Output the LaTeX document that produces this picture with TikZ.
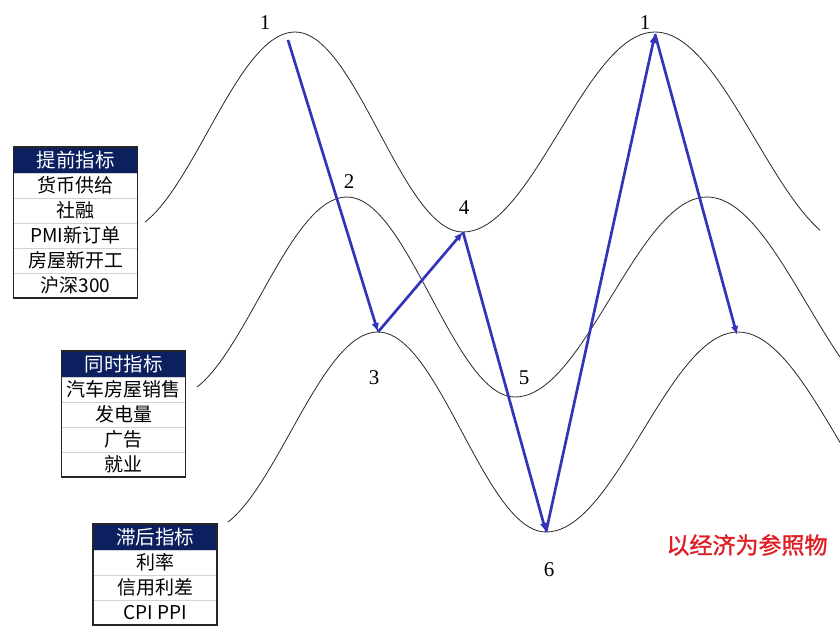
\documentclass[tikz,border=0pt]{standalone}
\usepackage{fontspec}
\setmainfont{Liberation Serif}
\newfontfamily\cjkfont{Noto Sans CJK SC}
\newfontfamily\notefont{Noto Sans CJK SC}[FakeBold=1.2]
\usetikzlibrary{positioning,arrows.meta}

\definecolor{navy}{RGB}{12,32,96}
\definecolor{arrowblue}{RGB}{52,52,186}
\definecolor{notered}{RGB}{222,30,36}

% one wave, peak at (#1,#2), cut at #3 past the peak
\newcommand{\wave}[3]{%
  \draw[curve, shift={(#1,#2)}]
    plot[domain=-150:0] (\x, {100-100*cos(\x*1.0286)})
    -- plot[domain=0:168] (\x, {100-100*cos(\x*1.0714)})
    -- plot[domain=168:360] (\x, {100+100*cos((\x-168)*0.9375)})
    -- plot[domain=360:#3] (\x, {107-107*cos((\x-360)*0.9)});}

\begin{document}
\begin{tikzpicture}[x=1pt, y=-1pt, node distance=0pt, samples=40]
    \tikzstyle{hdr} = [rectangle, fill=navy, text=white, minimum width=124pt, minimum height=26pt, inner sep=0pt, font=\cjkfont\fontsize{19.5}{21}\selectfont]
    \tikzstyle{cell} = [rectangle, draw=gray!35, minimum width=124pt, minimum height=24.6pt, inner sep=0pt, font=\cjkfont\fontsize{19}{21}\selectfont]
    \tikzstyle{frame} = [draw=black!85, line width=1.5pt]
    \tikzstyle{curve} = [draw=black!85, line width=0.8pt]
    \tikzstyle{num} = [font=\fontsize{21}{24}\selectfont]
    \tikzstyle{arr} = [draw=arrowblue, line width=2.7pt, -{Latex[length=9pt,width=7.5pt]}]

    \useasboundingbox (0,0) rectangle (840,641);
    \clip (0,0) rectangle (840,641);

    \node [hdr] (lead) at (75.5,160) {提前指标};
    \node [cell, below=of lead] (lead1) {货币供给};
    \node [cell, below=of lead1] (lead2) {社融};
    \node [cell, below=of lead2] (lead3) {PMI新订单};
    \node [cell, below=of lead3] (lead4) {房屋新开工};
    \node [cell, below=of lead4] (lead5) {沪深300};
    \draw [frame] (lead.north west) rectangle (lead5.south east);

    \node [hdr] (coin) at (123.5,364) {同时指标};
    \node [cell, below=of coin] (coin1) {汽车房屋销售};
    \node [cell, below=of coin1] (coin2) {发电量};
    \node [cell, below=of coin2] (coin3) {广告};
    \node [cell, below=of coin3] (coin4) {就业};
    \draw [frame] (coin.north west) rectangle (coin4.south east);

    \node [hdr] (lag) at (155,537) {滞后指标};
    \node [cell, below=of lag] (lag1) {利率};
    \node [cell, below=of lag1] (lag2) {信用利差};
    \node [cell, below=of lag2] (lag3) {CPI PPI};
    \draw [frame] (lag.north west) rectangle (lag3.south east);

    \wave{295}{32}{525}
    \wave{347}{197}{560}
    \wave{378}{332}{560}

    \node [num] (n1) at (265,23) {1};
    \node [num] (n2) at (349,182) {2};
    \node [num] (n3) at (374,378) {3};
    \node [num] (n4) at (464,208) {4};
    \node [num] (n5) at (524,378) {5};
    \node [num] (n6) at (549,570) {6};
    \node [num] (m1) at (645,23) {1};

    \coordinate (p1) at (288,40);
    \coordinate (p3) at (378,332);
    \coordinate (p4) at (463,232);
    \coordinate (p6) at (546,532);
    \coordinate (q1) at (655,34);
    \coordinate (q3) at (737,335);

    \draw [arr] (p1) -- (p3);
    \draw [arr] (p3) -- (p4);
    \draw [arr] (p4) -- (p6);
    \draw [arr] (p6) -- (q1);
    \draw [arr] (q1) -- (q3);

    \node [font=\notefont\fontsize{23}{25}\selectfont, text=notered] (note) at (747,545) {以经济为参照物};
\end{tikzpicture}
\end{document}
